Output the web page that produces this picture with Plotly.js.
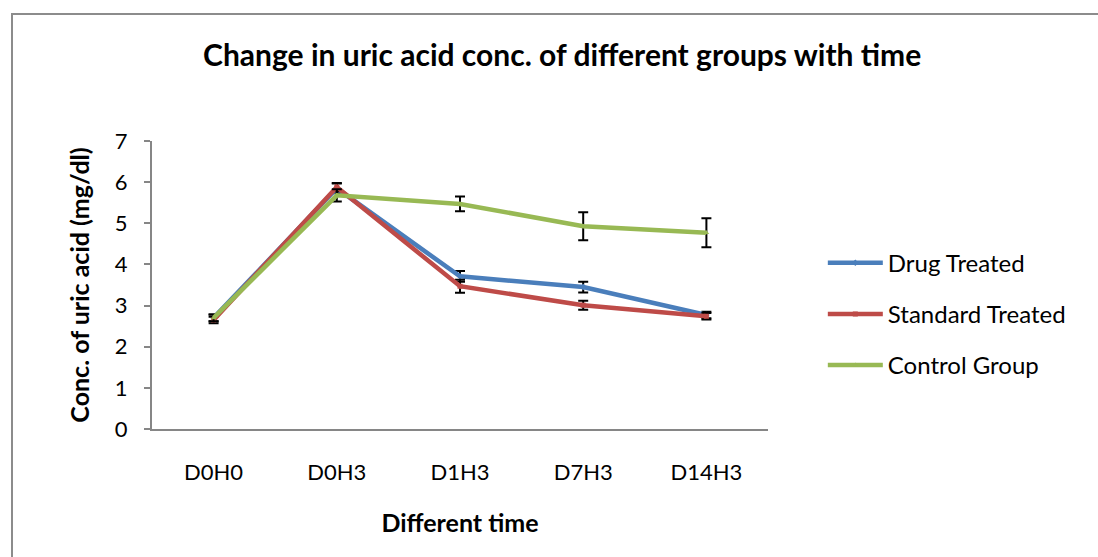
<!DOCTYPE html>
<html>
<head>
<meta charset="utf-8">
<script src="https://cdn.plot.ly/plotly-3.0.1.min.js"></script>
<style>
  html, body { margin: 0; padding: 0; background: #fff; overflow: hidden; }
  #wrap { position: relative; width: 1098px; height: 557px; overflow: hidden; }
  #chart { position: absolute; left: 0; top: 0; width: 1098px; height: 557px; }
  #vline { position: absolute; left: 11px; top: 13px; width: 2px; height: 544px; background: #8c8c8c; pointer-events: none; }
  #hline { position: absolute; left: 11px; top: 13px; width: 1087px; height: 2px; background: #8c8c8c; pointer-events: none; }
</style>
</head>
<body>
<div id="wrap">
  <div id="chart"></div>
  <div id="vline"></div>
  <div id="hline"></div>
</div>
<script>
const categories = ["D0H0", "D0H3", "D1H3", "D7H3", "D14H3"];
const drugTreated = [2.70, 5.85, 3.71, 3.45, 2.77];
const drugErr = [0.08, 0.12, 0.13, 0.13, 0.08];
const standardTreated = [2.65, 5.88, 3.47, 3.01, 2.74];
const standardErr = [0.08, 0.10, 0.16, 0.11, 0.08];
const controlGroup = [2.70, 5.68, 5.47, 4.93, 4.77];
const controlErr = [0.08, 0.15, 0.18, 0.34, 0.35];

const FONT = "Lato, 'Liberation Sans', sans-serif";

function series(name, y, err, color, symbol) {
  return {
    type: "scatter", mode: "lines+markers", name: name, legendgroup: name,
    x: categories, y: y,
    line: { color: color, width: 4.5 },
    marker: { color: color, size: 5, symbol: symbol },
    error_y: { type: "data", array: err, visible: true, color: "#000", thickness: 2, width: 5 }
  };
}

const data = [
  series("Drug Treated", drugTreated, drugErr, "#4a7ebb", "diamond"),
  series("Standard Treated", standardTreated, standardErr, "#be4b48", "square"),
  series("Control Group", controlGroup, controlErr, "#98b954", "triangle-up")
];

const layout = {
  width: 1098, height: 557,
  margin: { l: 152, r: 329.5, t: 140.7, b: 128, pad: 0 },
  paper_bgcolor: "#fff", plot_bgcolor: "#fff",
  font: { family: FONT, color: "#000", size: 22 },
  title: {
    text: "<b>Change in uric acid conc. of different groups with time</b>",
    font: { family: FONT, size: 30, color: "#000" },
    xref: "container", yref: "container", x: 0.512, y: 1 - 55/557,
    xanchor: "center", yanchor: "middle"
  },
  xaxis: {
    type: "category", range: [-0.5, 4.5],
    showgrid: false, zeroline: false,
    showline: true, linecolor: "#868686", linewidth: 2,
    ticks: "", tickfont: { family: FONT, size: 22 },
    ticklabelstandoff: 23,
    title: { text: "<b>Different time</b>", font: { family: FONT, size: 25 }, standoff: 30 }
  },
  yaxis: {
    range: [0, 7], dtick: 1,
    showgrid: false, zeroline: false,
    showline: true, linecolor: "#868686", linewidth: 2,
    ticks: "outside", ticklen: 6, tickcolor: "#868686", tickwidth: 2,
    tickfont: { family: FONT, size: 22 },
    ticklabelstandoff: 12,
    title: { text: "<b>Conc. of uric acid (mg/dl)</b>", font: { family: FONT, size: 25 }, standoff: 18 }
  },
  showlegend: true,
  legend: {
    x: 1.089, xanchor: "left", y: 0.399, yanchor: "middle",
    font: { family: FONT, size: 24 },
    itemwidth: 55, tracegroupgap: 17, traceorder: "grouped",
    bgcolor: "rgba(0,0,0,0)"
  }
};

Plotly.newPlot("chart", data, layout, { staticPlot: true, displayModeBar: false });
</script>
</body>
</html>
